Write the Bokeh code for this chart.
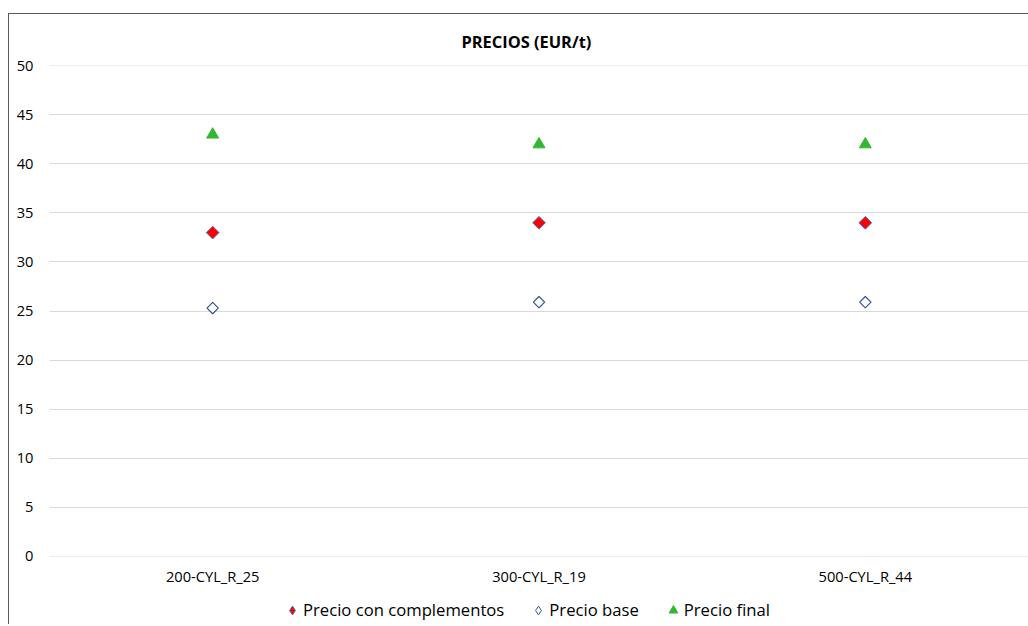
import math
from bokeh.plotting import figure
from bokeh.layouts import column
from bokeh.models import ColumnDataSource, Legend, LegendItem, FixedTicker, Title
from bokeh.embed import file_html
from bokeh.resources import INLINE

categories = ["200-CYL_R_25", "300-CYL_R_19", "500-CYL_R_44"]
precio_con_complementos = [33, 34, 34]
precio_base = [25.3, 25.9, 25.9]
precio_final = [43, 42, 42]
y_ticks = [0, 5, 10, 15, 20, 25, 30, 35, 40, 45, 50]
series_labels = ["Precio con complementos", "Precio base", "Precio final"]

FONT = "Open Sans"
RED, RED_LINE = "#ff0000", "#4472c4"
BASE_LINE = "#2f5597"
GREEN, GREEN_LINE = "#2dbb2d", "#3cb33c"

src = ColumnDataSource(dict(cat=categories, comp=precio_con_complementos,
                            base=precio_base, final=precio_final))

p = figure(x_range=categories, y_range=(-0.05, 50.05), width=1019, height=582,
           output_backend="svg", toolbar_location=None,
           min_border_left=40, min_border_right=0, min_border_top=50,
           min_border_bottom=40)
p.outline_line_color = None
p.background_fill_color = "white"
p.border_fill_color = "white"

p.scatter("cat", "comp", source=src, marker="square", size=9, angle=math.pi / 4,
          fill_color=RED, line_color=RED_LINE, line_width=1)
p.scatter("cat", "base", source=src, marker="square", size=8, angle=math.pi / 4,
          fill_color="white", line_color=BASE_LINE, line_width=1.2)
p.scatter("cat", "final", source=src, marker="triangle", size=12,
          fill_color=GREEN, line_color=GREEN_LINE, line_width=1)

p.yaxis.ticker = FixedTicker(ticks=y_ticks)
for ax in (p.xaxis[0], p.yaxis[0]):
    ax.axis_line_color = None
    ax.major_tick_line_color = None
    ax.minor_tick_line_color = None
    ax.major_label_text_font = FONT
    ax.major_label_text_font_size = "11pt"
    ax.major_label_text_color = "#000000"
p.yaxis.major_label_standoff = 10
p.xaxis.major_label_standoff = 3
p.xgrid.grid_line_color = None
p.ygrid.grid_line_color = "#d9d9d9"
p.ygrid.grid_line_width = 1

p.title = Title(text="PRECIOS (EUR/t)", align="left", offset=412, text_font=FONT,
                text_font_size="12.3pt", text_font_style="bold", text_color="#000000",
                standoff=26)

# legend strip
lf = figure(width=1019, height=28, x_range=(0, 1), y_range=(0, 1),
            output_backend="svg", toolbar_location=None,
            min_border_left=0, min_border_right=0, min_border_top=0, min_border_bottom=0)
lf.axis.visible = False
lf.grid.visible = False
lf.outline_line_color = None
lf.border_fill_color = "white"
lf.background_fill_color = "white"
d1 = lf.scatter([-5], [-5], marker="diamond", size=8, fill_color=RED, line_color=RED_LINE)
d2 = lf.scatter([-5], [-5], marker="diamond", size=8, fill_color="white", line_color=BASE_LINE)
d3 = lf.scatter([-5], [-5], marker="triangle", size=8, fill_color=GREEN, line_color=GREEN_LINE)

legend = Legend(items=[
    LegendItem(label=series_labels[0], renderers=[d1]),
    LegendItem(label=series_labels[1], renderers=[d2]),
    LegendItem(label=series_labels[2], renderers=[d3]),
], orientation="horizontal", location=(232, 3), label_text_font=FONT,
   label_text_font_size="12.5pt", label_text_color="#000000",
   border_line_color=None, background_fill_alpha=0, glyph_width=22,
   glyph_height=22, label_standoff=0, spacing=23, padding=0, margin=0)
lf.add_layout(legend, "center")

layout = column(p, lf, spacing=0,
                styles={"margin-top": "13px", "margin-left": "8px",
                        "border-top": "1px solid #595959",
                        "border-left": "1px solid #595959"})

open("out.html", "w").write(file_html(layout, INLINE))
